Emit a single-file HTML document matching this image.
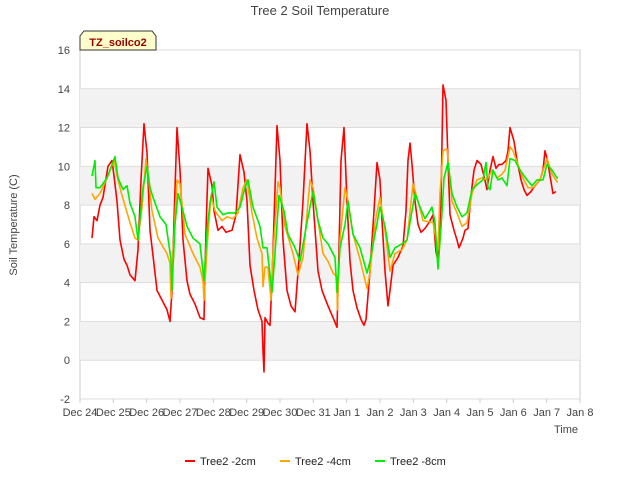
<!DOCTYPE html>
<html><head><meta charset="utf-8"><style>
body{margin:0;background:#fff;font-family:"Liberation Sans",sans-serif}
svg{display:block}
</style></head><body>
<svg id="chart" width="640" height="480">
<text x="320" y="15" text-anchor="middle" font-size="13" fill="#444">Tree 2 Soil Temperature</text>
<g id="bands"></g><g id="grid"></g><g id="ticks"></g><g id="series"></g>
<text transform="translate(17,225) rotate(-90)" text-anchor="middle" font-size="11" fill="#444">Soil Temperature (C)</text>
<text x="578" y="433" text-anchor="end" font-size="11" fill="#444">Time</text>
<g>
<path d="M80,50 L80,36 L84,31 L152,31 L156,36 L156,50 Z" fill="#ffffcc" stroke="#333" stroke-width="1"/>
<text x="118" y="46" text-anchor="middle" font-size="11" font-weight="bold" fill="#990000">TZ_soilco2</text>
</g>
<g id="legend"></g>
</svg>
<script>
const xTickLabels=["Dec 24","Dec 25","Dec 26","Dec 27","Dec 28","Dec 29","Dec 30","Dec 31","Jan 1","Jan 2","Jan 3","Jan 4","Jan 5","Jan 6","Jan 7","Jan 8"];
const yTicks=[-2,0,2,4,6,8,10,12,14,16];
const seriesNames=["Tree2 -2cm","Tree2 -4cm","Tree2 -8cm"];
const seriesColors=["#ff0000","#ffa500","#00ee00"];
const redT=[.36,.42,.51,.6,.69,.84,.96,1.02,1.11,1.2,1.32,1.41,1.5,1.65,1.74,1.83,1.92,2.01,2.1,2.19,2.31,2.46,2.61,2.7,2.76,2.82,2.91,3.0,3.09,3.21,3.3,3.45,3.6,3.72,3.78,3.84,3.96,4.02,4.14,4.26,4.38,4.56,4.68,4.8,4.92,5.01,5.1,5.22,5.34,5.46,5.49,5.52,5.55,5.64,5.7,5.76,5.85,5.91,6.0,6.09,6.21,6.33,6.45,6.6,6.69,6.81,6.9,6.99,7.14,7.26,7.44,7.59,7.71,7.77,7.83,7.92,8.01,8.1,8.19,8.31,8.43,8.52,8.58,8.7,8.82,8.91,9.0,9.06,9.15,9.24,9.3,9.39,9.54,9.69,9.78,9.84,9.9,9.96,10.05,10.14,10.23,10.35,10.47,10.59,10.68,10.74,10.83,10.89,10.98,11.04,11.1,11.22,11.31,11.37,11.49,11.55,11.64,11.73,11.82,11.91,12.03,12.12,12.21,12.3,12.39,12.48,12.57,12.66,12.78,12.84,12.9,13.02,13.11,13.23,13.32,13.41,13.53,13.65,13.8,13.89,13.95,14.04,14.1,14.19,14.28];
const redV=[6.3,7.4,7.2,8.0,8.4,10.0,10.3,9.5,8.2,6.2,5.2,4.9,4.4,4.1,5.7,9.3,12.2,10.7,6.7,5.4,3.6,3.1,2.6,2.0,3.6,7.2,12.0,9.8,6.2,4.1,3.4,2.9,2.2,2.1,6.7,9.9,9.0,7.7,6.7,6.9,6.6,6.7,7.5,10.6,9.7,8.2,4.9,3.6,2.6,2.0,0.5,-0.6,2.2,1.9,1.8,4.1,8.8,12.1,10.3,6.2,3.6,2.8,2.5,5.9,8.2,12.2,10.8,8.2,4.6,3.6,2.8,2.2,1.7,5.7,10.3,12.0,8.2,5.1,3.6,2.7,2.1,1.8,2.1,4.6,7.7,10.2,9.3,7.2,4.6,2.8,3.6,4.9,5.3,5.9,7.7,10.3,11.2,10.1,8.2,7.0,6.6,6.8,7.1,7.5,5.6,5.1,8.2,14.2,13.4,10.3,7.5,6.7,6.2,5.8,6.3,6.7,6.8,8.5,9.8,10.3,10.1,9.5,8.8,9.8,10.5,9.9,10.1,10.1,10.3,10.8,12.0,11.3,10.3,9.3,8.8,8.5,8.7,9.0,9.3,9.8,10.8,10.2,9.5,8.6,8.7];
const orangeT=[.36,.45,.6,.81,1.02,1.14,1.26,1.5,1.65,1.74,1.86,1.98,2.04,2.16,2.34,2.61,2.7,2.73,2.79,2.91,3.0,3.15,3.39,3.6,3.69,3.72,3.81,3.93,4.05,4.26,4.41,4.59,4.74,4.89,5.01,5.16,5.31,5.46,5.49,5.55,5.64,5.73,5.79,5.94,6.0,6.15,6.39,6.54,6.69,6.9,6.99,7.14,7.29,7.44,7.59,7.71,7.72,7.8,7.95,8.04,8.19,8.4,8.61,8.7,8.85,9.0,9.15,9.3,9.45,9.66,9.81,9.99,10.14,10.29,10.59,10.74,10.8,10.89,11.01,11.16,11.31,11.46,11.61,11.76,11.91,12.06,12.21,12.36,12.51,12.66,12.75,12.9,12.99,13.14,13.29,13.44,13.59,13.8,14.01,14.16,14.31,14.34];
const orangeV=[8.6,8.3,8.6,9.4,10.3,9.3,8.5,7.1,6.3,6.2,7.9,10.4,9.6,7.7,6.3,5.5,5.0,3.2,5.5,9.3,9.1,6.5,5.5,4.8,4.1,3.1,5.8,8.5,7.7,7.2,7.4,7.3,7.6,8.9,9.3,7.6,6.3,5.5,3.8,4.8,4.8,3.1,5.5,9.2,8.9,6.9,5.5,4.4,5.3,9.3,8.9,7.2,5.5,5.1,4.5,4.3,2.6,6.2,8.9,8.2,6.5,5.2,3.7,4.5,7.1,8.4,6.7,4.6,5.5,5.7,6.2,9.1,8.2,7.2,7.1,5.7,8.6,10.8,10.9,8.2,7.6,6.9,7.1,8.6,9.3,9.4,9.3,9.8,9.4,9.6,9.8,11.0,10.8,10.1,9.4,8.9,8.9,9.3,10.4,9.6,9.2,9.2];
const greenT=[.36,.45,.48,.6,.81,1.05,1.14,1.29,1.41,1.5,1.65,1.74,1.89,2.01,2.1,2.19,2.4,2.58,2.73,2.76,2.85,2.94,3.09,3.21,3.39,3.6,3.72,3.81,3.9,4.02,4.11,4.29,4.44,4.65,4.8,4.95,5.04,5.19,5.4,5.49,5.61,5.76,5.85,5.97,6.12,6.24,6.45,6.6,6.81,6.99,7.14,7.29,7.44,7.65,7.71,7.8,7.95,8.04,8.19,8.4,8.61,8.7,8.85,9.0,9.15,9.3,9.45,9.66,9.81,10.05,10.2,10.35,10.56,10.65,10.74,10.86,10.92,11.04,11.16,11.31,11.46,11.61,11.76,11.94,12.09,12.18,12.24,12.3,12.39,12.54,12.66,12.81,12.9,13.05,13.2,13.41,13.56,13.71,13.89,14.01,14.16,14.31,14.34];
const greenV=[9.5,10.3,8.9,8.9,9.4,10.5,9.4,8.8,9.0,8.1,7.4,6.2,8.9,10.0,8.9,8.4,7.4,7.0,5.2,3.6,7.0,8.6,7.7,6.9,6.3,6.0,4.1,6.7,8.1,9.2,7.9,7.5,7.6,7.6,7.9,8.9,9.3,7.9,6.9,5.8,5.8,3.5,5.5,8.5,7.7,6.5,5.8,5.1,7.1,8.7,7.2,6.3,6.0,5.3,3.5,5.8,7.0,8.2,6.5,5.8,4.5,5.1,6.5,7.9,6.9,5.3,5.8,6.0,6.2,8.6,7.9,7.3,7.9,7.1,4.7,7.6,9.4,10.2,8.6,7.9,7.4,7.6,8.8,9.1,9.3,10.2,8.9,8.8,9.8,9.3,9.4,9.0,10.4,10.3,9.8,9.3,9.0,9.3,9.3,10.1,9.8,9.4,9.4];

const NS="http://www.w3.org/2000/svg";
const L=80,R=580,T=50,B=399;
const xS=d=>L+(R-L)*d/15;
const yS=v=>B-(B-T)*(v+2)/18;
function mk(tag,attrs,parent){const e=document.createElementNS(NS,tag);for(const k in attrs)e.setAttribute(k,attrs[k]);parent.appendChild(e);return e;}
const bands=document.getElementById('bands'),grid=document.getElementById('grid'),ticks=document.getElementById('ticks'),ser=document.getElementById('series'),leg=document.getElementById('legend');
mk('rect',{x:L,y:T,width:R-L,height:B-T,fill:'#fff',stroke:'#ccc'},bands);
for(let i=0;i<yTicks.length-1;i++){
  if(i%2===1){const b=mk('rect',{x:L,y:yS(yTicks[i+1]),width:R-L,height:yS(yTicks[i])-yS(yTicks[i+1]),fill:'#f2f2f2'},bands);
  
  }
}
yTicks.forEach(v=>{
  const g=mk('line',{x1:L,x2:R,y1:yS(v),y2:yS(v),stroke:'#ddd'},grid);
  
  
  const t=mk('text',{x:L-10,y:yS(v)+4,'text-anchor':'end','font-size':11,fill:'#444'},ticks);t.textContent=v;
  
  
});
xTickLabels.forEach((s,i)=>{
  mk('line',{x1:xS(i),x2:xS(i),y1:B,y2:B+4,stroke:'#ccc'},ticks);
  const t=mk('text',{x:xS(i),y:B+17,'text-anchor':'middle','font-size':11,fill:'#444'},ticks);t.textContent=s;
  
  
});
[[redT,redV],[orangeT,orangeV],[greenT,greenV]].forEach((s,k)=>{
  const d=s[0].map((t,i)=>(i?'L':'M')+xS(t).toFixed(1)+','+yS(s[1][i]).toFixed(1)).join('');
  const p=mk('path',{d:d,fill:'none',stroke:seriesColors[k],'stroke-width':1.6,'stroke-linejoin':'round'},ser);
  
  
});
const lx=[185,280,375];
seriesNames.forEach((n,k)=>{
  const g=mk('g',{},leg);
  
  
  mk('line',{x1:lx[k],x2:lx[k]+10,y1:461,y2:461,stroke:seriesColors[k],'stroke-width':2},g);
  const t=mk('text',{x:lx[k]+15,y:465,'font-size':11,fill:'#222'},g);t.textContent=n;
});
</script>
</body></html>
